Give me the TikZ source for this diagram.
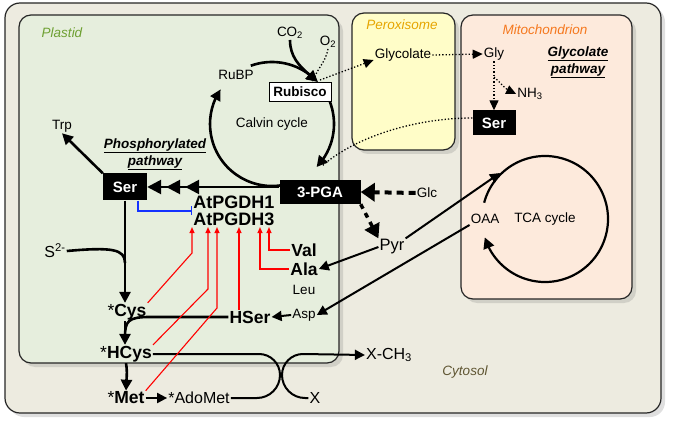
\documentclass[tikz,border=0pt]{standalone}
\usepackage{fontspec}
\setmainfont{Liberation Sans}
\usepackage{tikz}
\usetikzlibrary{arrows.meta}
\usetikzlibrary{bending}
\usetikzlibrary{shadows}
\usetikzlibrary{positioning}
\definecolor{cytosolbg}{RGB}{237, 235, 224}
\definecolor{plastidbg}{RGB}{230, 238, 221}
\definecolor{peroxibg}{RGB}{255, 253, 200}
\definecolor{mitobg}{RGB}{253, 234, 220}
\definecolor{plastidtxt}{RGB}{110, 160, 50}
\definecolor{peroxitxt}{RGB}{230, 165, 0}
\definecolor{mitotxt}{RGB}{245, 120, 30}
\definecolor{cytotxt}{RGB}{95, 85, 50}
\definecolor{inhblue}{RGB}{20, 50, 255}

\begin{document}
\begin{tikzpicture}[x=1pt, y=1pt,
    txt/.style={font=\fontsize{13.5}{16}\selectfont, inner sep=1pt},
    bigtxt/.style={font=\fontsize{16}{18}\selectfont, inner sep=1pt},
    aa/.style={font=\fontsize{17.5}{20}\selectfont\bfseries, inner sep=1pt},
    room/.style={font=\fontsize{13.5}{16}\selectfont\itshape},
    pathlbl/.style={font=\fontsize{13.5}{17}\selectfont\bfseries\itshape, align=center, inner sep=1pt},
    blk/.style={fill=black, text=white, font=\fontsize{15}{18}\selectfont\bfseries, inner sep=0pt},
    comp/.style={draw=black!85, line width=1.2pt, rounded corners=12pt,
                 drop shadow={shadow xshift=4pt, shadow yshift=-4pt, opacity=0.25}},
    arr/.style={line width=2.6pt, -{Triangle[length=11pt,width=11pt]}},
    thinarr/.style={line width=2pt, -{Triangle[length=10pt,width=10pt]}},
    tri3/.style={line width=2.6pt, -{Triangle[length=14pt,width=14pt,sep=5pt]Triangle[length=14pt,width=14pt,sep=5pt]Triangle[length=14pt,width=14pt]}},
    actv/.style={draw=red, line width=1.1pt, -{Triangle[length=6pt,width=5pt]}},
    inhib/.style={draw=inhblue, line width=1.5pt, -{Bar[width=9pt]}},
    dots/.style={line width=1.3pt, dotted},
    dotarr/.style={line width=1.3pt, dotted, -{Triangle[length=10pt,width=9pt]}},
    glcarr/.style={line width=4pt, dash pattern=on 7pt off 5pt, -{Triangle[length=14pt,width=18pt]}},
    pyrarr/.style={line width=3.5pt, dash pattern=on 5pt off 5pt, -{Triangle[length=14pt,width=16pt]}}
  ]
  \useasboundingbox (0,0) rectangle (675,429);

  % compartments
  \filldraw[comp, fill=cytosolbg, rounded corners=15pt] (5,16)    rectangle (661,426);
  \filldraw[comp, fill=plastidbg]                       (19,66)   rectangle (339,414);
  \filldraw[comp, fill=peroxibg]                        (352,279) rectangle (455,416);
  \filldraw[comp, fill=mitobg]                          (461,130) rectangle (632,414);

  \node[room, plastidtxt] (plastidlbl) at (62,396)  {Plastid};
  \node[room, peroxitxt]  (peroxilbl)  at (402,404) {Peroxisome};
  \node[room, mitotxt]    (mitolbl)    at (545,399) {Mitochondrion};
  \node[room, cytotxt]    (cytolbl)    at (465,57)  {Cytosol};

  % cycles
  \coordinate (calvc) at (272,305);
  \draw[arr] ([shift={(-75:62)}]calvc) arc[start angle=-75, end angle=-214, radius=62];
  \draw[arr] ([shift={(110:62)}]calvc) arc[start angle=110, end angle=43, radius=62];
  \draw[arr] ([shift={(25:62)}]calvc)  arc[start angle=25, end angle=-44, radius=62];
  \coordinate (tcac) at (545,210);
  \draw[line width=2.2pt, -{Triangle[length=11pt,width=11pt]}]
       ([shift={(165:63)}]tcac) arc[start angle=165, end angle=-163, radius=63];

  % metabolites
  \node[txt] (calvin) at (272,305) {Calvin cycle};
  \node[txt] (rubp)   at (236,354) {RuBP};
  \node[draw, fill=white, line width=1pt, font=\fontsize{13.5}{16}\selectfont\bfseries,
        minimum width=62pt, minimum height=19pt, inner sep=0pt] (rubisco) at (300,337) {Rubisco};
  \node[txt] (co2) at (290,396) {CO\textsubscript{2}};
  \node[txt] (o2)  at (328,387) {O\textsubscript{2}};
  \node[blk, minimum width=81pt, minimum height=24pt] (pga) at (320,237) {3-PGA};
  \node[blk, minimum width=44pt, minimum height=27pt] (ser) at (125,242) {Ser};
  \node[txt] (trp)  at (62,303)    {Trp};
  \node[pathlbl] (phos) at (155,274.5) {\underline{Phosphorylated}\\\underline{pathway}};
  \node[font=\fontsize{18}{17}\selectfont\bfseries, align=center, inner sep=1pt] (pgdh) at (234,218) {AtPGDH1\\AtPGDH3};
  \node[bigtxt] (sulf)   at (55,178)  {S\textsuperscript{2-}};
  \node[aa]     (cys)    at (127,117) {{\mdseries *}Cys};
  \node[aa]     (hcys)   at (126,75)  {{\mdseries *}HCys};
  \node[aa]     (met)    at (126,31)  {{\mdseries *}Met};
  \node[bigtxt] (adomet) at (199,31)  {*AdoMet};
  \node[aa]     (hser)   at (250,112) {HSer};
  \node[txt]    (asp)    at (304,114) {Asp};
  \node[aa]     (val)    at (304,179) {Val};
  \node[aa]     (ala)    at (304,160) {Ala};
  \node[txt]    (leu)    at (304,139) {Leu};
  \node[txt]    (glc)    at (427,236) {Glc};
  \node[font=\fontsize{16.5}{18}\selectfont, inner sep=1pt] (pyr) at (392,182) {Pyr};
  \node[txt]    (oaa)    at (485,210) {OAA};
  \node[txt]    (tca)    at (545,210) {TCA cycle};
  \node[txt]    (glycolate) at (403,374) {Glycolate};
  \node[txt]    (gly)    at (494,375) {Gly};
  \node[pathlbl] (glyp)  at (578,366.5) {\underline{Glycolate}\\\underline{pathway}};
  \node[txt]    (nh3)    at (530,335) {NH\textsubscript{3}};
  \node[blk, minimum width=43pt, minimum height=25pt] (mser) at (494,306) {Ser};
  \node[bigtxt] (xch3)   at (389,74)  {X-CH\textsubscript{3}};
  \node[bigtxt] (xx)     at (315,31)  {X};

  \coordinate (glyfork) at (494,352);
  \coordinate (sjoin)   at (125,166);
  \coordinate (tcain)   at (500,256);

  % Calvin cycle and photorespiration
  \draw[arr] (co2.south) to[out=-90, in=140] ([xshift=18pt]rubisco.north);
  \draw[dots] (o2.south) to[out=-100, in=75] ([xshift=13pt]rubisco.north);
  \draw[dotarr] ([xshift=20pt, yshift=2pt]rubisco.north) -- ([yshift=-5pt]glycolate.west);
  \draw[dotarr] (glycolate.east) -- (gly.west);
  \draw[dotarr] (gly.south) -- (mser.north);
  \draw[dotarr] (glyfork) to[out=-40, in=165] (nh3.west);
  \draw[dots] ([yshift=5pt]mser.west) .. controls (415,311) and (355,292) .. (322,263);

  % phosphorylated pathway
  \draw[tri3] (pga.west |- ser.east) -- (ser.east);
  \draw[arr] (ser.north west) -- (trp.south);
  \draw[inhib] ([xshift=13pt]ser.south) |- (pgdh.west);
  \draw[arr] (ser.south) -- (ser.south |- cys.north);
  \draw[line width=2.6pt] (sulf.east) .. controls (112,182) and (125,180) .. (sjoin);
  \draw[arr] (ser.south |- cys.south) -- (ser.south |- hcys.north);
  \draw[line width=2.6pt] (hser.west) -- (150,112) .. controls (128,112) and (125,108) .. (125,92);
  \draw[arr] (hcys.south) to[out=-80, in=90] (met.north);
  \draw[thinarr] (met.east) -- (adomet.west);
  \draw[line width=2pt] (hcys.east) -- (259,75) arc[start angle=90, end angle=0, radius=21]
                        arc[start angle=0, end angle=-90, radius=23] -- (adomet.east);
  \draw[thinarr] (xx.west) -- (305,31) arc[start angle=-90, end angle=-180, radius=23]
                        arc[start angle=180, end angle=90, radius=21] -- (xch3.west);

  % activation of AtPGDH
  \draw[actv] (cys.north east) -- (192,176) -- ([xshift=-42pt]pgdh.south);
  \draw[actv] (hcys.north east) -- (208,140) -- ([xshift=-26pt]pgdh.south);
  \draw[actv] (met.north east) -- (217,121) -- ([xshift=-17pt]pgdh.south);
  \draw[actv] ([xshift=-11pt]hser.north) -- ([xshift=5pt]pgdh.south);
  \draw[actv] (ala.west) -| ([xshift=26pt]pgdh.south);
  \draw[actv] (val.west) -| ([xshift=35pt]pgdh.south);

  % cytosol
  \draw[thinarr] (asp.west) -- (hser.east);
  \draw[thinarr] (oaa.south west) -- (asp.east);
  \draw[thinarr] (pyr.west) -- (ala.east);
  \draw[thinarr] (pyr.north east) -- (tcain);
  \draw[glcarr] (glc.west) -- (pga.east);
  \draw[pyrarr] (pga.south east) -- (pyr.north west);
\end{tikzpicture}
\end{document}
